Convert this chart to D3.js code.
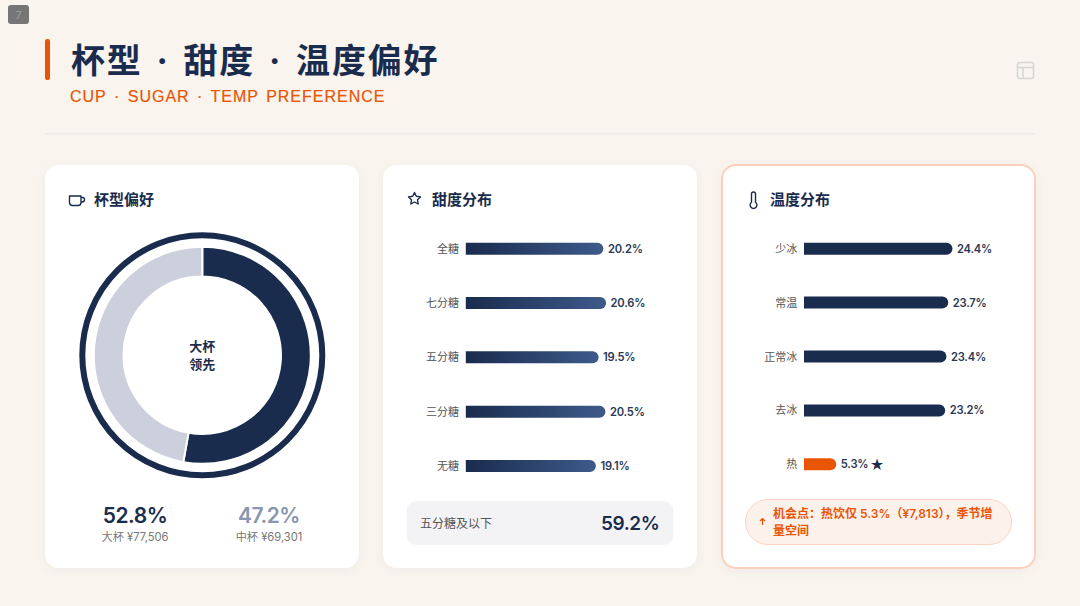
<!DOCTYPE html>
<html><head><meta charset="utf-8">
<script src="https://cdn.jsdelivr.net/npm/d3@7/dist/d3.min.js"></script>
<style>html,body{margin:0;padding:0;background:#f9f4ee;overflow:hidden}svg{display:block}
text{font-family:Inter,"Noto Sans CJK SC",sans-serif}</style></head><body><div id="c"></div>
<script>
const cupLabels=["大杯","中杯"];
const cupShares=[52.8,47.2];
const cupSales=["¥77,506","¥69,301"];
const sugarLabels=["全糖","七分糖","五分糖","三分糖","无糖"];
const sugarValues=[20.2,20.6,19.5,20.5,19.1];
const tempLabels=["少冰","常温","正常冰","去冰","热"];
const tempValues=[24.4,23.7,23.4,23.2,5.3];

const navy="#1a2c4e",orange="#ea5504";
const svg=d3.select("#c").append("svg").attr("width",1080).attr("height",606);
const defs=svg.append("defs");
const g=defs.append("linearGradient").attr("id","sg");
g.append("stop").attr("offset",0).attr("stop-color","#1a2c4e");
g.append("stop").attr("offset",1).attr("stop-color","#3d5a8a");
const f=defs.append("filter").attr("id","sh").attr("x","-10%").attr("y","-10%").attr("width","120%").attr("height","120%");
f.append("feDropShadow").attr("dx",0).attr("dy",2).attr("stdDeviation",5).attr("flood-color","#1a2c4e").attr("flood-opacity",0.04);
svg.append("rect").attr("width",1080).attr("height",606).attr("fill","#f9f4ee");

function T(x,y,s,o={}){const t=svg.append("text").attr("x",x).attr("y",y).attr("dominant-baseline","central")
 .attr("text-anchor",o.a||"start").attr("font-size",o.s||12).attr("font-weight",o.w||400).attr("fill",o.c||navy)
 .attr("letter-spacing",o.ls||null).attr("word-spacing",o.ws||null).text(s);
 if(o.f)t.style("font-family",o.f);return t;}

// page badge
svg.append("rect").attr("x",8).attr("y",5).attr("width",21).attr("height",19).attr("rx",3).attr("fill","#767676");
T(18.5,14.5,"7",{a:"middle",s:10,c:"#a3a3a3"});
// header
svg.append("rect").attr("x",45).attr("y",39).attr("width",5).attr("height",41).attr("rx",2).attr("fill",orange);
T(71,60,"杯型 · 甜度 · 温度偏好",{s:34,w:700,ls:"1.8px",ws:"4.05px"});
T(70,96,"CUP · SUGAR · TEMP PREFERENCE",{s:16,w:400,c:orange,ls:"1px",ws:"2px",f:'"Liberation Sans",sans-serif'}).attr("stroke",orange).attr("stroke-width",0.2);
svg.append("rect").attr("x",45).attr("y",133).attr("width",990).attr("height",1.5).attr("fill","#eeebe6");
// layout icon
const li=svg.append("g").attr("fill","none").attr("stroke","#d5d5d3").attr("stroke-width",1.5);
li.append("rect").attr("x",1017.5).attr("y",62.5).attr("width",16).attr("height",16).attr("rx",2);
li.append("path").attr("d","M1017.5 67.5H1033.5M1023 67.5V78.5");

// cards
[[45,314,false],[383,314,false],[722,313,true]].forEach(([x,w,hi])=>{
 svg.append("rect").attr("x",x).attr("y",165).attr("width",w).attr("height",403).attr("rx",14)
  .attr("fill","#fff").attr("filter","url(#sh)").attr("stroke",hi?"#fbcfba":"none").attr("stroke-width",hi?2:0);
});

// card titles
T(94,199.3,"杯型偏好",{s:15,w:700});
T(432,199.3,"甜度分布",{s:15,w:700});
T(770,199.3,"温度分布",{s:15,w:700});
const ic=svg.append("g").attr("fill","none").attr("stroke",navy).attr("stroke-width",1.4).attr("stroke-linecap","round").attr("stroke-linejoin","round");
ic.append("path").attr("d","M69.5 196H81V202.5A3 3 0 0 1 78 205.5H72.5A3 3 0 0 1 69.5 202.5ZM81 197.5H82.5A2 2 0 0 1 84.5 199.5A2.5 2.5 0 0 1 82 202H81");
ic.append("path").attr("d","M414.5 192.5L416.3 196.3L420.5 196.9L417.5 199.8L418.2 204L414.5 202L410.8 204L411.5 199.8L408.5 196.9L412.7 196.3Z");
ic.append("path").attr("d","M751.5 194A2 2 0 0 1 755.5 194V202.3A3.4 3.4 0 1 1 751.5 202.3Z");

// donut
const cx=202.3,cy=355.3;
const dg=svg.append("g").attr("transform",`translate(${cx},${cy})`);
dg.append("circle").attr("r",120).attr("fill","none").attr("stroke",navy).attr("stroke-width",6);
const pie=d3.pie().sort(null)(cupShares);
const arc=d3.arc().innerRadius(78.7).outerRadius(108.5);
const cupColors=[navy,"#cbd0dc"];
dg.selectAll("path").data(pie).join("path").attr("d",arc).attr("fill",(d,i)=>cupColors[i]).attr("stroke","#fff").attr("stroke-width",2);
T(cx,345.7,cupLabels[0],{a:"middle",s:13,w:700});
T(cx,364.3,"领先",{a:"middle",s:13,w:700});
const statX=[135,269],statC=[navy,"#8a96ad"];
cupShares.forEach((v,i)=>{
 T(statX[i],515,v.toFixed(1)+"%",{a:"middle",s:21,w:600,c:statC[i],ls:"-0.5px"});
 T(statX[i],537,cupLabels[i]+" "+cupSales[i],{a:"middle",s:11.2,c:"#777"});
});

function bars(labels,values,x0,maxW,y0,y1,fill,cname){
 const x=d3.scaleLinear().domain([0,d3.max(values)]).range([0,maxW]);
 const y=d3.scalePoint().domain(labels).range([y0,y1]);
 const h=12,r=6;
 svg.append("g").attr("class",cname).selectAll("path").data(labels).join("path")
  .attr("fill",(d,i)=>fill(i))
  .attr("d",(d,i)=>{const w=x(values[i]),t=y(d)-h/2;
    return `M${x0} ${t}H${x0+w-r}A${r} ${r} 0 0 1 ${x0+w-r} ${t+h}H${x0}Z`;});
 labels.forEach((l,i)=>{
  T(x0-6.8,y(l),l,{a:"end",s:11,c:"#555"});
  T(x0+x(values[i])+4.5,y(l),values[i].toFixed(1)+"%",{s:11.2,w:600,c:"#2a3855",ls:"-0.2px"});
 });
 return {x,y};
}
bars(sugarLabels,sugarValues,465.8,140.3,248.7,466,()=>"url(#sg)","sugar");
bars(tempLabels,tempValues,804,148.5,248.7,464.3,i=>tempValues[i]===d3.min(tempValues)?orange:navy,"temp");
T(877,464.5,"★",{a:"middle",s:14,c:navy});

// summary box
svg.append("rect").attr("x",406.5).attr("y",501).attr("width",267).attr("height",44).attr("rx",10).attr("fill","#f3f3f6");
T(420,523,"五分糖及以下",{s:12,c:"#555"});
T(659.5,523.5,"59.2%",{a:"end",s:19,w:600,ls:"-0.4px"});

// callout
svg.append("rect").attr("x",745.5).attr("y",499.5).attr("width",266).attr("height",45).attr("rx",22.5).attr("fill","#fdf1ec").attr("stroke","#fbd3c0").attr("stroke-width",1);
svg.append("path").attr("d","M762.5 525V518.5M760 521L762.5 518.5L765 521").attr("fill","none").attr("stroke",orange).attr("stroke-width",1.2);
T(773,513,"机会点：热饮仅 5.3%（¥7,813），季节增",{s:12,w:600,c:orange});
T(773,530.5,"量空间",{s:12,w:600,c:orange});
</script></body></html>
